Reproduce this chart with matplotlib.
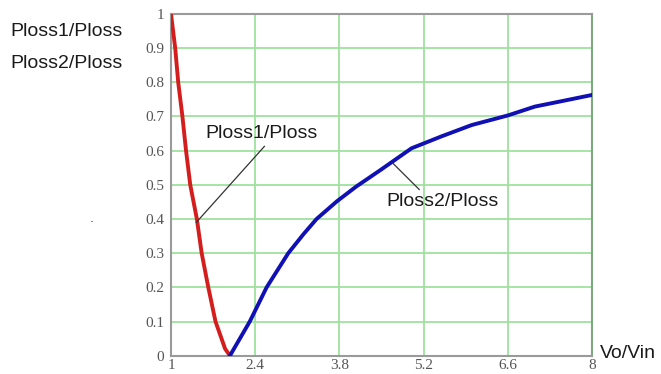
import matplotlib
matplotlib.use("Agg")
import matplotlib.pyplot as plt

# Loss share of switch 1 and switch 2 versus conversion ratio
ratio1 = [1.0, 1.07, 1.12, 1.19, 1.25, 1.32, 1.43, 1.51, 1.62, 1.74, 1.84, 1.90, 1.98]
ploss1 = [1.0, 0.90, 0.80, 0.70, 0.60, 0.50, 0.40, 0.30, 0.20, 0.10, 0.05, 0.02, 0.0]

ratio2 = [1.98, 2.31, 2.59, 2.95, 3.2, 3.42, 3.76, 4.08, 4.48, 5.0, 5.5, 6.0, 6.6, 7.05, 7.5, 8.0]
ploss2 = [0.0, 0.10, 0.20, 0.30, 0.355, 0.40, 0.452, 0.495, 0.543, 0.607, 0.642, 0.675, 0.703, 0.729, 0.745, 0.763]

xticks = [1, 2.4, 3.8, 5.2, 6.6, 8]
xtick_labels = ["1", "2.4", "3.8", "5.2", "6.6", "8"]
yticks = [0, 0.1, 0.2, 0.3, 0.4, 0.5, 0.6, 0.7, 0.8, 0.9, 1.0]
ytick_labels = ["0", "0.1", "0.2", "0.3", "0.4", "0.5", "0.6", "0.7", "0.8", "0.9", "1"]

fig = plt.figure(figsize=(6.61, 3.74), dpi=100)
ax = fig.add_axes([0.2587, 0.049, 0.6369, 0.9136])

ax.set_xlim(1, 8)
ax.set_ylim(0, 1)
ax.set_xticks(xticks)
ax.set_xticklabels(xtick_labels)
ax.set_yticks(yticks)
ax.set_yticklabels(ytick_labels)
ax.tick_params(length=0, labelsize=11, labelcolor="#555555")
ax.tick_params(axis="x", pad=2.5)
ax.tick_params(axis="y", pad=5)
for lab in ax.get_xticklabels() + ax.get_yticklabels():
    lab.set_fontfamily("Liberation Serif")

ax.grid(True, color="#9ee29e", linewidth=1.3)
ax.set_axisbelow(True)
for side in ["left", "top", "bottom"]:
    ax.spines[side].set_color("#9a9a9a")
    ax.spines[side].set_linewidth(1.5)
ax.spines["right"].set_color("#7fa87f")
ax.spines["right"].set_linewidth(1.5)

ax.plot(ratio1, ploss1, color="#d41e1e", linewidth=2.8, zorder=3)
ax.plot(ratio2, ploss2, color="#1010b4", linewidth=2.8, zorder=3)

# Leader lines pointing labels at the curves
ax.annotate("Ploss1/Ploss", xy=(1.42, 0.39), xytext=(2.5, 0.649),
            fontsize=14, family="Liberation Sans", color="#1a1a1a",
            ha="center", va="center",
            arrowprops=dict(arrowstyle="-", color="#333333", lw=0.9,
                            shrinkA=1, shrinkB=0, relpos=(0.56, 0.0)))
ax.annotate("Ploss2/Ploss", xy=(4.69, 0.563), xytext=(5.51, 0.45),
            fontsize=14, family="Liberation Sans", color="#1a1a1a",
            ha="center", va="center",
            arrowprops=dict(arrowstyle="-", color="#333333", lw=0.9,
                            shrinkA=1, shrinkB=0, relpos=(0.33, 1.0)))

fig.text(600 / 661, 1 - 353 / 374, "Vo/Vin", fontsize=14,
         family="Liberation Sans", color="#1a1a1a", va="center", ha="left")
fig.text(10 / 661, 1 - 32 / 374, "Ploss1/Ploss", fontsize=14,
         family="Liberation Sans", color="#1a1a1a", va="center", ha="left")
fig.text(10 / 661, 1 - 64 / 374, "Ploss2/Ploss", fontsize=14,
         family="Liberation Sans", color="#1a1a1a", va="center", ha="left")
fig.text(90 / 661, 1 - 222 / 374, ".", fontsize=9, color="#333333")

fig.savefig("out.png", dpi=100, facecolor="white")
